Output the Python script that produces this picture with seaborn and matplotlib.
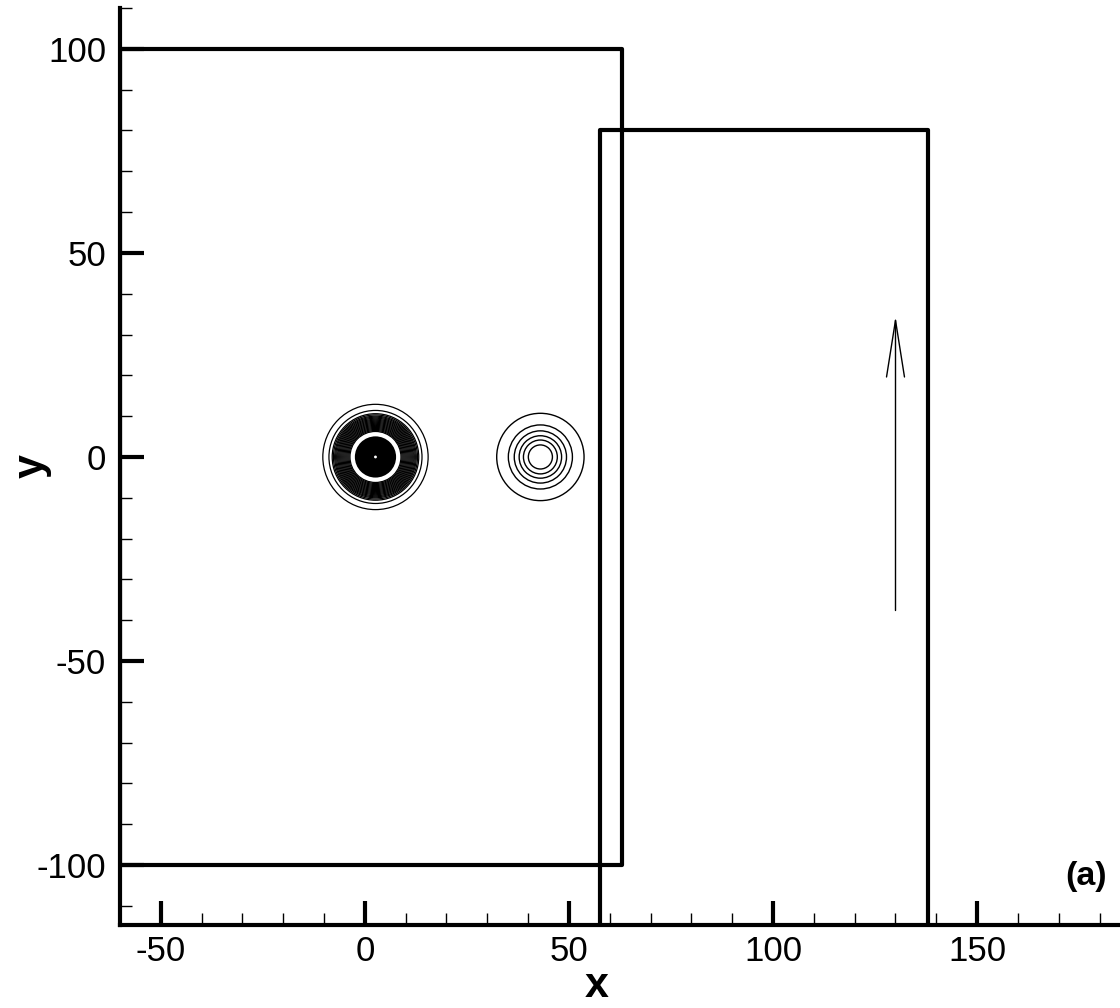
import numpy as np
import matplotlib
matplotlib.use("Agg")
import matplotlib.pyplot as plt
from matplotlib.patches import Circle
import seaborn as sns
import pandas as pd

# ---------------- data ----------------
x_major_ticks = [-50, 0, 50, 100, 150]
y_major_ticks = [-100, -50, 0, 50, 100]
x_minor_ticks = [-60, -40, -30, -20, -10, 10, 20, 30, 40, 60, 70, 80, 90,
                 110, 120, 130, 140, 160, 170, 180]
y_minor_ticks = [-110, -90, -80, -70, -60, -40, -30, -20, -10, 10, 20, 30,
                 40, 60, 70, 80, 90, 110]
x_limits = [-60, 185]
y_limits = [-114.7, 110]

domain1_x = [-60, 63, 63, -60, -60]
domain1_y = [-100, -100, 100, 100, -100]
domain2_x = [57.5, 57.5, 138, 138]
domain2_y = [-114.7, 80, 80, -114.7]

vortex1_center = (2.6, 0.0)
vortex1_core_radius = 5.05
vortex1_eye_radius = 0.35
vortex1_radii = [6.25, 6.5, 6.75, 7.0, 7.25, 7.5, 7.75, 8.0, 8.25, 8.5,
                 8.75, 9.0, 9.25, 9.5, 9.75, 10.0, 10.3, 10.6, 11.4, 12.9]
vortex2_center = (43.0, 0.0)
vortex2_radii = [2.95, 4.15, 5.2, 6.4, 7.85, 10.7]

arrow_x = [130, 130]
arrow_y = [-37.5, 33.5]
arrowhead_x = [127.8, 130, 132.2]
arrowhead_y = [19.6, 33.5, 19.6]

panel_label = "(a)"
panel_label_pos = (176.7, -102.8)

# ---------------- style ----------------
sns.set_style("white")
plt.rcParams["font.family"] = ["Liberation Sans", "DejaVu Sans"]
plt.rcParams["text.color"] = "black"
plt.rcParams["axes.labelcolor"] = "black"

fig = plt.figure(figsize=(11.2, 10.08), dpi=100)
ax = fig.add_axes([0.1071, 0.0823, 0.8929, 0.9097])

# vortex 1: filled core, white eye, dense rings
cx, cy = vortex1_center
ax.add_patch(Circle((cx, cy), vortex1_core_radius, facecolor="black",
                    edgecolor="none", zorder=2))
ax.add_patch(Circle((cx, cy), vortex1_eye_radius, facecolor="white",
                    edgecolor="none", zorder=3))
for r in vortex1_radii:
    ax.add_patch(Circle((cx, cy), r, fill=False, edgecolor="black",
                        lw=0.9, zorder=2))

# vortex 2
cx, cy = vortex2_center
for r in vortex2_radii:
    ax.add_patch(Circle((cx, cy), r, fill=False, edgecolor="black",
                        lw=1.0, zorder=2))

# domain outlines
d1 = pd.DataFrame({"x": domain1_x, "y": domain1_y})
d2 = pd.DataFrame({"x": domain2_x, "y": domain2_y})
sns.lineplot(data=d1, x="x", y="y", sort=False, estimator=None,
             color="black", lw=3, ax=ax, zorder=4)
sns.lineplot(data=d2, x="x", y="y", sort=False, estimator=None,
             color="black", lw=3, ax=ax, zorder=4)

# arrow
ax.plot(arrow_x, arrow_y, color="black", lw=1.0, zorder=4)
ax.plot(arrowhead_x, arrowhead_y, color="black", lw=1.0, zorder=4)

ax.text(panel_label_pos[0], panel_label_pos[1], panel_label,
        fontsize=24.5, fontweight="bold", ha="center", va="center",
        color="black")

ax.set_xlim(*x_limits)
ax.set_ylim(*y_limits)
ax.set_xticks(x_major_ticks)
ax.set_yticks(y_major_ticks)
ax.set_xticks(x_minor_ticks, minor=True)
ax.set_yticks(y_minor_ticks, minor=True)
ax.set_xticklabels([str(v) for v in x_major_ticks])
ax.set_yticklabels([str(v) for v in y_major_ticks])

ax.tick_params(which="both", bottom=True, left=True, top=False, right=False)
ax.tick_params(which="major", direction="in", length=17, width=3,
               labelsize=25, pad=7, color="black", labelcolor="black")
ax.tick_params(axis="y", which="major", pad=10)
ax.tick_params(which="minor", direction="in", length=8.5, width=1.0,
               color="black")

for side in ["top", "right"]:
    ax.spines[side].set_visible(False)
for side in ["left", "bottom"]:
    ax.spines[side].set_linewidth(3)
    ax.spines[side].set_color("black")

ax.set_xlabel("x", fontsize=31, fontweight="bold", color="black")
ax.set_ylabel("y", fontsize=31, fontweight="bold", color="black")
ax.xaxis.set_label_coords(0.477, -0.0665)
ax.xaxis.label.set_va("center")
ax.yaxis.set_label_coords(-0.088, 0.50)
ax.yaxis.label.set_va("center")

fig.savefig("out.png", dpi=100)
